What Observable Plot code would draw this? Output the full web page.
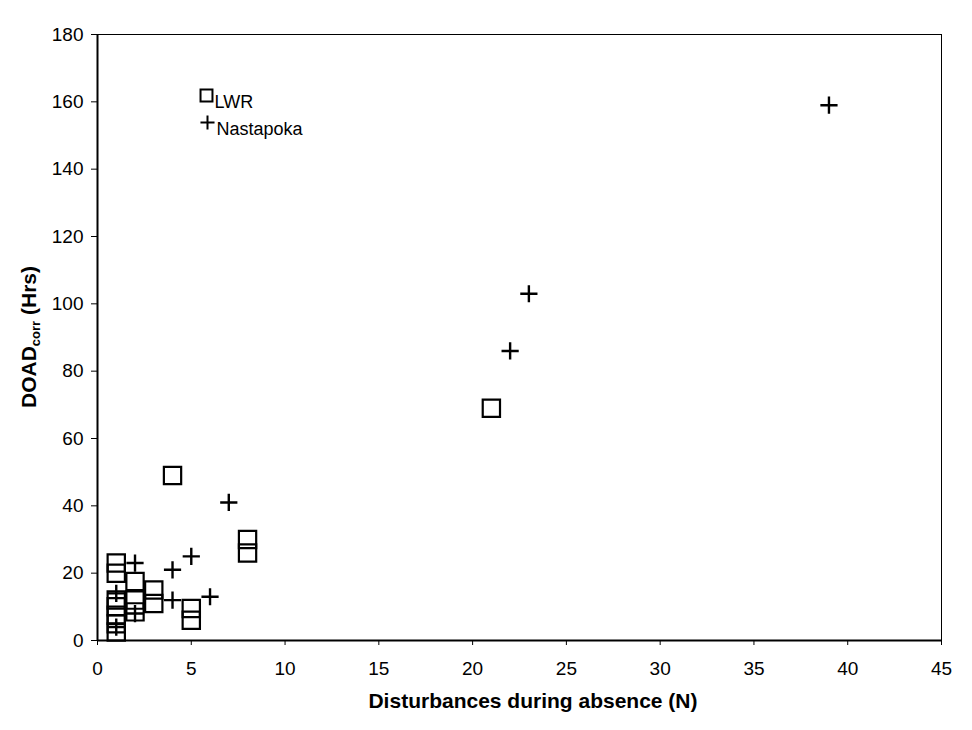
<!DOCTYPE html>
<html>
<head>
<meta charset="utf-8">
<script src="https://cdn.jsdelivr.net/npm/d3@7"></script>
<script src="https://cdn.jsdelivr.net/npm/@observablehq/plot@0.6"></script>
<style>
  html, body { margin: 0; padding: 0; background: #fff; }
  #chart svg { display: block; }
</style>
</head>
<body>
<div id="chart"></div>
<script>
// ---- data ----
const seriesNames = ["LWR", "Nastapoka"];
const lwrX = [1, 1, 1, 1, 1, 1, 1, 2, 2, 2, 3, 3, 4, 5, 5, 8, 8, 21];
const lwrY = [23, 20, 12, 10, 7.5, 5, 2.5, 17.5, 12, 8.5, 15, 11, 49, 9.5, 6, 30, 26, 69];
const nasX = [1, 1, 2, 2, 4, 4, 5, 6, 7, 22, 23, 39];
const nasY = [14, 4, 23, 8, 21, 12, 25, 13, 41, 86, 103, 159];
const xTicks = [0, 5, 10, 15, 20, 25, 30, 35, 40, 45];
const yTicks = [0, 20, 40, 60, 80, 100, 120, 140, 160, 180];
const xTitle = "Disturbances during absence (N)";
const yTitleMain = "DOAD";
const yTitleSub = "corr";
const yTitleUnit = " (Hrs)";

const lwr = lwrX.map((x, i) => ({x, y: lwrY[i]}));
const nas = nasX.map((x, i) => ({x, y: nasY[i]}));

const W = 972, H = 730;
const mL = 97, mR = 31, mT = 34, mB = 90;
const font = '"Liberation Sans", Arial, Helvetica, sans-serif';

const chart = Plot.plot({
  width: W,
  height: H,
  marginLeft: mL,
  marginRight: mR,
  marginTop: mT,
  marginBottom: mB,
  style: {fontFamily: font, fontSize: "19px", color: "#000", background: "#fff", overflow: "visible"},
  x: {domain: [0, 45], ticks: xTicks, tickSize: 5, tickPadding: 16, label: null},
  y: {domain: [0, 180], ticks: yTicks, tickSize: 6, tickPadding: 8, label: null},
  marks: [
    Plot.frame({stroke: "#000", strokeWidth: 1}),
    Plot.ruleX([0], {stroke: "#000", strokeWidth: 2}),
    Plot.ruleY([0], {stroke: "#000", strokeWidth: 2}),
    Plot.dot(lwr, {x: "x", y: "y", symbol: "square2", r: 11, stroke: "#000", strokeWidth: 2.2, fill: "none"}),
    Plot.dot(nas, {x: "x", y: "y", symbol: "plus", r: 5.6, stroke: "#000", strokeWidth: 2.4}),
    // legend (inside the plot, top-left)
    Plot.dot([seriesNames[0]], {frameAnchor: "top-left", dx: 109, dy: 61, symbol: "square2", r: 7.6, stroke: "#000", strokeWidth: 2, fill: "none"}),
    Plot.dot([seriesNames[1]], {frameAnchor: "top-left", dx: 110, dy: 88, symbol: "plus", r: 4.6, stroke: "#000", strokeWidth: 2}),
    Plot.text([seriesNames[0]], {frameAnchor: "top-left", dx: 117, dy: 61, text: d => d, textAnchor: "start", fontSize: 18, fill: "#000"}),
    Plot.text([seriesNames[1]], {frameAnchor: "top-left", dx: 119, dy: 88, text: d => d, textAnchor: "start", fontSize: 18, fill: "#000"})
  ]
});

document.getElementById("chart").appendChild(chart);

const svg = d3.select(chart);

// y-axis title with subscript
const yt = svg.append("text")
  .attr("transform", `translate(36,${(mT + (H - mB)) / 2}) rotate(-90)`)
  .attr("text-anchor", "middle")
  .attr("font-family", font)
  .attr("font-weight", "bold")
  .attr("font-size", 21)
  .attr("fill", "#000");
yt.append("tspan").text(yTitleMain);
yt.append("tspan").attr("font-size", 13).attr("dy", 4).text(yTitleSub);
yt.append("tspan").attr("dy", -4).text(yTitleUnit);

// x-axis title
svg.append("text")
  .attr("x", 533)
  .attr("y", 708)
  .attr("text-anchor", "middle")
  .attr("font-family", font)
  .attr("font-weight", "bold")
  .attr("font-size", 21)
  .attr("fill", "#000")
  .text(xTitle);
</script>
</body>
</html>
